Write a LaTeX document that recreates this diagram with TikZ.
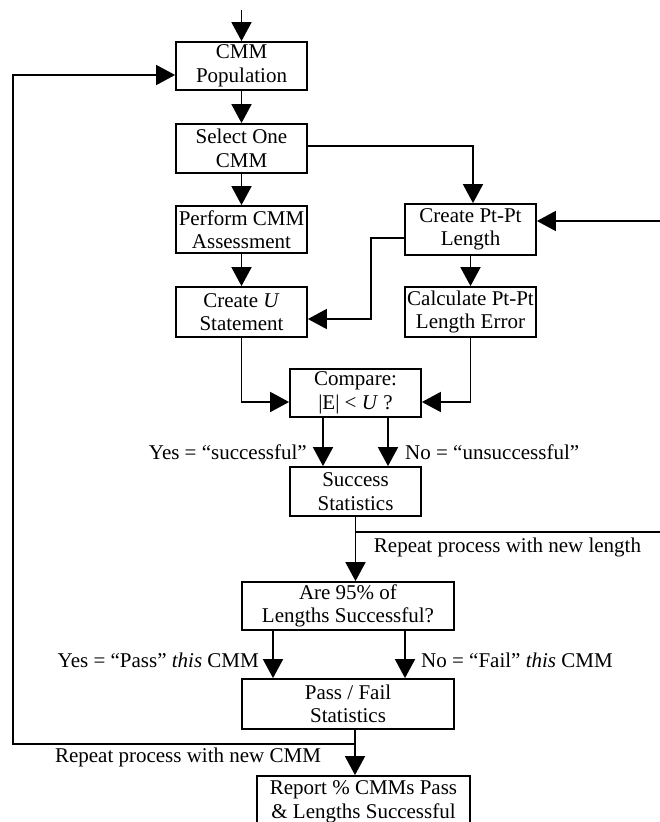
\documentclass[tikz,border=0pt]{standalone}
\usepackage{fontspec}
\setmainfont{Liberation Serif}
\usetikzlibrary{arrows.meta}
\begin{document}
\begin{tikzpicture}[x=1pt,y=-1pt,
 txt/.style={font=\fontsize{21}{23.5}\selectfont},
 box/.style={draw,line width=1.8pt,align=center,inner sep=0pt,txt},
 lbl/.style={inner sep=0pt,txt},
 conn/.style={line width=1.8pt},
 arr/.style={conn,-{Triangle[length=19pt,width=20pt]}}]
\useasboundingbox (0,0) rectangle (660,822);
% boxes
\node[box,minimum width=131pt,minimum height=48pt] (pop) at (241.5,66) {CMM\\Population};
\node[box,minimum width=131pt,minimum height=49pt] (sel) at (241.5,148.5) {Select One\\CMM};
\node[box,minimum width=131pt,minimum height=47pt] (perf) at (241.5,229.5) {Perform CMM\\Assessment};
\node[box,minimum width=131pt,minimum height=50pt] (crU) at (241.5,312) {Create \textit{U}\\Statement};
\node[box,minimum width=131pt,minimum height=51pt] (pt) at (470.5,229.5) {Create Pt-Pt\\Length};
\node[box,minimum width=131pt,minimum height=50pt] (calc) at (470.5,312) {Calculate Pt-Pt\\Length Error};
\node[box,minimum width=131pt,minimum height=48pt] (cmp) at (355.5,393) {Compare:\\|E| < \textit{U} ?};
\node[box,minimum width=131pt,minimum height=49pt] (succ) at (355.5,491.5) {Success\\Statistics};
\node[box,minimum width=212pt,minimum height=48pt] (are) at (348,606) {Are 95\% of\\Lengths Successful?};
\node[box,minimum width=212pt,minimum height=50pt] (pf) at (348,704) {Pass / Fail\\Statistics};
\node[box,minimum width=213pt,minimum height=52pt] (rep) at (363.5,802) {Report \% CMMs Pass\\\& Lengths Successful};
% free ends
\coordinate (top) at (241.5,10);
\coordinate (rin) at (660,221);
\coordinate (rout) at (660,532);
\coordinate (lp) at (13,744);
\coordinate (pfo) at ([xshift=7pt]pf.south);
% connectors
\draw[arr] (top) -- (pop.north);
\draw[arr] (pop) -- (sel);
\draw[arr] (sel) -- (perf);
\draw[arr] (perf) -- (crU);
\draw[arr] ([yshift=2.5pt]sel.east) -| ([xshift=2.5pt]pt.north);
\draw[arr] (rin) -- (rin -| pt.east);
\draw[arr] (pt) -- (calc);
\draw[arr] ([yshift=-8.5pt]pt.west) -- ++(-33,0) |- ([yshift=-7pt]crU.east);
\draw[arr] (crU.south) |- ([yshift=-9pt]cmp.west);
\draw[arr] (calc.south) |- ([yshift=-9pt]cmp.east);
\draw[arr] ([xshift=-32.5pt]cmp.south) -- ([xshift=-32.5pt]succ.north);
\draw[arr] ([xshift=32.5pt]cmp.south) -- ([xshift=32.5pt]succ.north);
\draw[arr] (succ.south) -- (succ.south |- are.north);
\draw[conn] (rout -| succ.south) -- (rout);
\draw[arr] ([xshift=-75pt]are.south) -- ([xshift=-75pt]pf.north);
\draw[arr] ([xshift=57pt]are.south) -- ([xshift=57pt]pf.north);
\draw[arr] (pfo) -- (pfo |- rep.north);
\draw[arr] (lp -| pfo) -- (lp) |- ([yshift=-9pt]pop.west);
% labels
\node[lbl,anchor=east] (ly1) at (307,452) {Yes = “successful”};
\node[lbl,anchor=west] (ln1) at (405,452) {No = “unsuccessful”};
\node[lbl] (lr1) at (507.5,547) {Repeat process with new length};
\node[lbl,anchor=east] (ly2) at (259,660) {Yes = “Pass” \textit{this} CMM};
\node[lbl,anchor=west] (ln2) at (421,660) {No = “Fail” \textit{this} CMM};
\node[lbl] (lr2) at (188,757) {Repeat process with new CMM};
\end{tikzpicture}
\end{document}
